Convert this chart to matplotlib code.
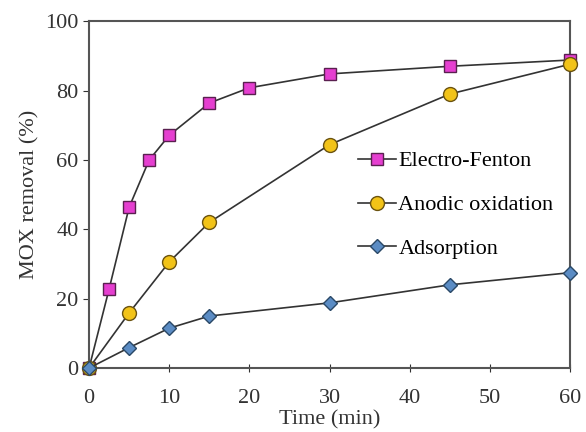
import matplotlib
matplotlib.use("Agg")
import matplotlib.pyplot as plt

plt.rcParams['font.family'] = ['Liberation Serif', 'DejaVu Serif']

# data
t_ef = [0, 2.5, 5, 7.5, 10, 15, 20, 30, 45, 60]
ef = [0, 22.8, 46.4, 60, 67.1, 76.4, 80.8, 84.8, 87, 88.8]

t_ao = [0, 5, 10, 15, 30, 45, 60]
ao = [0, 15.9, 30.6, 42, 64.4, 79, 87.6]

t_ad = [0, 5, 10, 15, 30, 45, 60]
ad = [0, 5.9, 11.5, 15, 18.8, 24, 27.5]

fig = plt.figure(figsize=(5.86, 4.32), dpi=100)
ax = fig.add_axes([0.152, 0.148, 0.821, 0.803])

ax.plot(t_ef, ef, color='#333333', lw=1.2, marker='s', ms=9, mfc='#E53FD0', mec='#5a2050',
        mew=1.0, label='Electro-Fenton', clip_on=False, zorder=3)
ax.plot(t_ao, ao, color='#333333', lw=1.2, marker='o', ms=10, mfc='#F2C318', mec='#6b5310',
        mew=1.0, label='Anodic oxidation', clip_on=False, zorder=4)
ax.plot(t_ad, ad, color='#333333', lw=1.2, marker='D', ms=7, mfc='#5B8CC4', mec='#2a4866',
        mew=1.0, label='Adsorption', clip_on=False, zorder=5)

ax.set_xlim(0, 60)
ax.set_ylim(0, 100)
ax.set_xticks(range(0, 61, 10))
ax.set_yticks(range(0, 101, 20))
ax.tick_params(axis='x', direction='inout', length=6, labelsize=16, colors='#333333', pad=12)
ax.tick_params(axis='y', direction='out', length=4, labelsize=16, colors='#333333')
for s in ax.spines.values():
    s.set_color('#555555')
    s.set_linewidth(1.5)

ax.set_xlabel('Time (min)', fontsize=16, color='#333333', labelpad=2)
ax.set_ylabel('MOX removal (%)', fontsize=16, color='#333333', labelpad=4)

ax.legend(loc='center left', bbox_to_anchor=(0.56, 0.47), frameon=False, fontsize=16,
          handlelength=1.7, labelspacing=1.05, handletextpad=0.1, borderaxespad=0, borderpad=0)

fig.savefig('out.png', dpi=100)
